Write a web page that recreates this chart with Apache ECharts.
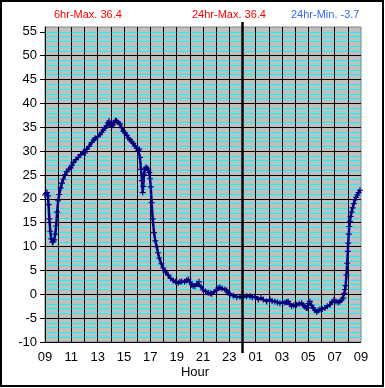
<!DOCTYPE html>
<html>
<head>
<meta charset="utf-8">
<script src="https://cdn.jsdelivr.net/npm/echarts@6/dist/echarts.min.js"></script>
<style>
html,body{margin:0;padding:0;background:#fff;}
#c{width:385px;height:388px;}
</style>
</head>
<body>
<div id="c"></div>
<script>
// hours elapsed since 09:00
var hours = [0.00,0.07,0.15,0.22,0.27,0.33,0.40,0.48,0.56,0.63,0.70,0.78,0.85,0.92,1.00,1.08,1.19,1.29,1.39,1.52,1.65,1.80,1.95,2.05,2.15,2.35,2.53,2.70,2.91,3.05,3.17,3.35,3.55,3.70,3.80,4.00,4.18,4.30,4.43,4.55,4.68,4.78,4.86,4.95,5.06,5.15,5.24,5.35,5.44,5.55,5.69,5.82,5.95,6.08,6.20,6.32,6.45,6.58,6.70,6.83,6.96,7.08,7.16,7.21,7.29,7.37,7.42,7.46,7.52,7.59,7.68,7.77,7.85,7.92,7.98,8.03,8.10,8.18,8.28,8.38,8.48,8.58,8.68,8.83,8.98,9.15,9.36,9.55,9.74,9.92,10.12,10.25,10.38,10.60,10.75,10.88,11.00,11.14,11.25,11.39,11.55,11.69,11.85,12.02,12.20,12.40,12.55,12.66,12.85,13.04,13.15,13.29,13.45,13.67,13.80,13.92,14.05,14.30,14.56,14.81,15.06,15.31,15.57,15.75,15.95,16.20,16.40,16.58,16.83,17.08,17.25,17.46,17.65,17.84,18.05,18.22,18.35,18.47,18.60,18.73,18.90,19.11,19.30,19.49,19.62,19.74,19.85,19.92,20.02,20.12,20.25,20.37,20.50,20.63,20.75,20.88,21.05,21.26,21.45,21.64,21.80,21.94,22.10,22.27,22.40,22.53,22.65,22.73,22.79,22.83,22.90,22.95,23.00,23.03,23.07,23.11,23.16,23.21,23.28,23.36,23.45,23.54,23.63,23.72,23.82,23.92];
var temps = [20.8,21.1,21.3,20.6,18.8,15.8,13.2,11.6,10.9,11.0,11.4,12.6,14.3,17.2,19.6,20.9,22.3,23.3,24.1,25.0,25.7,26.2,26.5,27.0,27.6,28.2,28.7,29.2,29.8,29.6,30.4,31.0,31.8,32.3,32.7,33.0,33.5,33.9,34.4,34.8,35.3,35.9,36.3,35.7,35.2,35.5,36.0,36.4,36.3,36.0,35.7,34.9,34.2,33.8,33.3,32.8,32.4,32.0,31.6,31.1,30.6,30.1,30.4,28.7,26.2,23.8,21.3,22.6,25.0,26.3,26.6,26.4,26.0,25.5,24.2,22.5,19.2,15.8,12.9,11.2,10.0,8.7,7.6,6.4,5.5,4.7,4.0,3.3,2.9,2.6,2.4,2.6,2.7,2.6,2.9,3.1,2.6,2.0,1.8,1.7,2.2,2.6,1.6,0.9,0.6,0.3,0.2,0.1,0.5,0.9,1.3,1.4,1.2,1.0,0.8,0.3,-0.1,-0.3,-0.6,-0.5,-0.6,-0.4,-0.4,-0.6,-0.5,-1.1,-0.8,-1.1,-1.5,-1.1,-1.4,-1.5,-1.7,-1.9,-1.7,-1.8,-1.6,-1.5,-2.1,-2.5,-2.3,-2.2,-2.0,-1.9,-2.3,-2.6,-2.9,-2.8,-1.9,-1.5,-2.3,-2.9,-3.3,-3.7,-3.4,-3.2,-3.1,-2.9,-2.5,-2.2,-1.6,-1.2,-1.5,-1.7,-1.5,-1.2,-0.8,0.2,1.0,1.8,4.0,6.5,9.0,10.7,12.6,14.2,15.3,16.3,17.2,18.1,19.0,19.8,20.3,20.8,21.3,21.8];
var startHour = 9;
var yTicks = [-10,-5,0,5,10,15,20,25,30,35,40,45,50,55];
var headerTexts = ['6hr-Max. 36.4', '24hr-Max. 36.4', '24hr-Min. -3.7'];
var xName = 'Hour';

var font = 'Liberation Sans, Arial, sans-serif';
var chart = echarts.init(document.getElementById('c'), null, {renderer:'canvas'});
var pts = hours.map(function(h,i){return [h, temps[i]];});
function pad(n){return (n<10?'0':'')+n;}

chart.setOption({
  animation:false,
  backgroundColor:'#ffffff',
  title:[
    {text:headerTexts[0], left:54, top:9, padding:0, textStyle:{color:'#ff0000', fontSize:11, fontWeight:'normal', fontFamily:font}},
    {text:headerTexts[1], left:192, top:9, padding:0, textStyle:{color:'#ff0000', fontSize:11, fontWeight:'normal', fontFamily:font}},
    {text:headerTexts[2], left:291, top:9, padding:0, textStyle:{color:'#3366ff', fontSize:11, fontWeight:'normal', fontFamily:font}},
    {text:xName, left:195, textAlign:'center', top:366, padding:0, textStyle:{color:'#000', fontSize:13, fontWeight:'normal', fontFamily:font}}
  ],
  grid:{left:45, right:24, top:27, bottom:46, show:true, backgroundColor:'#c0c0c0', borderColor:'#808080', borderWidth:1},
  xAxis:{
    type:'value', min:0, max:24, interval:1, z:3,
    axisLine:{show:true, lineStyle:{color:'#000', width:1}},
    axisTick:{show:false},
    axisLabel:{margin:9, color:'#000', fontSize:13, fontFamily:font,
      formatter:function(v){ return (Math.round(v)%2===0) ? pad((startHour+Math.round(v))%24) : ''; }},
    splitLine:{show:true, showMaxLine:false, lineStyle:{color:'#000', width:1}}
  },
  yAxis:[
    {
      type:'value', min:-10, max:56, interval:1, position:'left', z:1,
      axisLine:{show:false}, axisTick:{show:false}, axisLabel:{show:false},
      splitLine:{show:true, showMaxLine:false, showMinLine:false, lineStyle:{color:'#00ffff', width:1}}
    },
    {
      type:'value', min:-10, max:56, interval:5, position:'left', z:3,
      axisLine:{show:true, lineStyle:{color:'#000', width:1}},
      axisTick:{show:true, length:5, customValues:yTicks, lineStyle:{color:'#000'}},
      axisLabel:{customValues:yTicks, margin:8, color:'#000', fontSize:13, fontFamily:font},
      splitLine:{show:true, showMaxLine:false, lineStyle:{color:'#000', width:1}}
    }
  ],
  series:[{
    type:'line', yAxisIndex:1, data:pts, z:5,
    symbol:'path://M2,0h1v2h2v1h-2v2h-1v-2h-2v-1h2z', symbolSize:6, showSymbol:true,
    itemStyle:{color:'#000080'},
    lineStyle:{color:'#000080', width:2.5},
    clip:false
  }]
});

// midnight divider: extends slightly beyond the plot, like the reference
var midX = chart.convertToPixel({xAxisIndex:0}, (24 - startHour));
var topY = chart.convertToPixel({yAxisIndex:1}, 56);
var botY = chart.convertToPixel({yAxisIndex:1}, -10);
chart.setOption({
  graphic:[
    {type:'rect', shape:{x:1, y:1, width:382, height:385}, style:{fill:null, stroke:'#000', lineWidth:2}, silent:true, z:100},
    {type:'line', shape:{x1:midX, y1:topY-5, x2:midX, y2:botY+11}, style:{stroke:'#000', lineWidth:2.5}, silent:true, z:100}
  ]
});
</script>
</body>
</html>
